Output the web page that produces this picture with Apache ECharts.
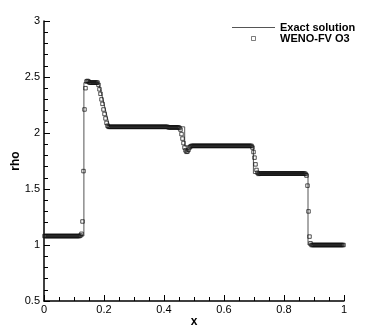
<!DOCTYPE html>
<html>
<head>
<meta charset="utf-8">
<script src="https://cdn.jsdelivr.net/npm/echarts@6/dist/echarts.min.js"></script>
<style>
  html, body { margin: 0; padding: 0; background: #fff; }
  #chart { width: 374px; height: 332px; }
</style>
</head>
<body>
<div id="chart"></div>
<script>
// exact solution (piecewise)
var exactX   = [0, 0.133, 0.133, 0.182, 0.19, 0.20, 0.21, 0.219, 0.469, 0.469, 0.698, 0.698, 0.880, 0.880, 1];
var exactRho = [1.08, 1.08, 2.45, 2.45, 2.37, 2.26, 2.15, 2.055, 2.055, 1.885, 1.885, 1.638, 1.638, 1.0, 1.0];

// WENO-FV O3, 300 cells
var nCells = 300;
var wenoRho = [
  1.08, 1.08, 1.08, 1.08, 1.08, 1.08, 1.08, 1.08, 1.08, 1.08,
  1.08, 1.08, 1.08, 1.08, 1.08, 1.08, 1.08, 1.08, 1.08, 1.08,
  1.08, 1.08, 1.08, 1.08, 1.08, 1.08, 1.08, 1.08, 1.08, 1.08,
  1.08, 1.08, 1.08, 1.08, 1.08, 1.08, 1.085, 1.10, 1.21, 1.66,
  2.21, 2.40, 2.46, 2.465, 2.46, 2.45, 2.45, 2.45, 2.45, 2.45,
  2.45, 2.45, 2.45, 2.45, 2.43, 2.39, 2.35, 2.30, 2.26, 2.21,
  2.17, 2.13, 2.09, 2.065, 2.055, 2.055, 2.055, 2.055, 2.055, 2.055,
  2.055, 2.055, 2.055, 2.055, 2.055, 2.055, 2.055, 2.055, 2.055, 2.055,
  2.055, 2.055, 2.055, 2.055, 2.055, 2.055, 2.055, 2.055, 2.055, 2.055,
  2.055, 2.055, 2.055, 2.055, 2.055, 2.055, 2.055, 2.055, 2.055, 2.055,
  2.055, 2.055, 2.055, 2.055, 2.055, 2.055, 2.055, 2.055, 2.055, 2.055,
  2.055, 2.055, 2.055, 2.055, 2.055, 2.055, 2.055, 2.055, 2.055, 2.055,
  2.055, 2.055, 2.055, 2.055, 2.05, 2.05, 2.05, 2.05, 2.05, 2.05,
  2.05, 2.05, 2.05, 2.05, 2.05, 2.045, 2.03, 1.99, 1.95, 1.91,
  1.87, 1.845, 1.832, 1.835, 1.85, 1.87, 1.88, 1.885, 1.885, 1.885,
  1.885, 1.885, 1.885, 1.885, 1.885, 1.885, 1.885, 1.885, 1.885, 1.885,
  1.885, 1.885, 1.885, 1.885, 1.885, 1.885, 1.885, 1.885, 1.885, 1.885,
  1.885, 1.885, 1.885, 1.885, 1.885, 1.885, 1.885, 1.885, 1.885, 1.885,
  1.885, 1.885, 1.885, 1.885, 1.885, 1.885, 1.885, 1.885, 1.885, 1.885,
  1.885, 1.885, 1.885, 1.885, 1.885, 1.885, 1.885, 1.885, 1.885, 1.885,
  1.885, 1.885, 1.885, 1.885, 1.885, 1.885, 1.885, 1.885, 1.87, 1.83,
  1.78, 1.72, 1.67, 1.645, 1.635, 1.638, 1.638, 1.638, 1.638, 1.638,
  1.638, 1.638, 1.638, 1.638, 1.638, 1.638, 1.638, 1.638, 1.638, 1.638,
  1.638, 1.638, 1.638, 1.638, 1.638, 1.638, 1.638, 1.638, 1.638, 1.638,
  1.638, 1.638, 1.638, 1.638, 1.638, 1.638, 1.638, 1.638, 1.638, 1.638,
  1.638, 1.638, 1.638, 1.638, 1.638, 1.638, 1.638, 1.638, 1.638, 1.638,
  1.638, 1.635, 1.62, 1.53, 1.30, 1.075, 1.015, 1.0, 1.0, 1.0,
  1.0, 1.0, 1.0, 1.0, 1.0, 1.0, 1.0, 1.0, 1.0, 1.0,
  1.0, 1.0, 1.0, 1.0, 1.0, 1.0, 1.0, 1.0, 1.0, 1.0,
  1.0, 1.0, 1.0, 1.0, 1.0, 1.0, 1.0, 1.0, 1.0, 1.0
];

var exactData = exactX.map(function (x, i) { return [x, exactRho[i]]; });
// cell centres
var wenoData = wenoRho.map(function (r, i) { return [(i + 0.5) / nCells, r]; });

var font = '"Liberation Sans", Arial, sans-serif';
var chart = echarts.init(document.getElementById('chart'));

var option = {
    animation: false,
    backgroundColor: '#fff',
    grid: { left: 44, right: 30, top: 21, bottom: 31, outerBoundsMode: 'none', containLabel: false },
    legend: {
        orient: 'vertical',
        left: 227,
        top: 17,
        itemWidth: 43,
        itemHeight: 4,
        itemGap: 0,
        textStyle: { fontFamily: font, fontSize: 11, fontWeight: 'bold', color: '#000' },
        data: [
            { name: 'Exact solution', icon: 'path://M0,0H46V1H0Z',
              itemStyle: { color: '#555', borderWidth: 0 } },
            { name: 'WENO-FV O3', icon: 'path://M0,0H10V10H0Z',
              itemStyle: { color: 'rgba(255,255,255,0)', borderColor: '#333', borderWidth: 0.8 } }
        ]
    },
    xAxis: {
        type: 'value',
        min: 0, max: 1, interval: 0.2,
        name: 'x',
        nameLocation: 'middle',
        nameGap: 15,
        nameMoveOverlap: false,
        nameTextStyle: { fontFamily: font, fontSize: 12, fontWeight: 'bold', color: '#000' },
        axisLine: { lineStyle: { color: '#000', width: 1.5 } },
        axisTick: { inside: true, length: 6, lineStyle: { color: '#000' } },
        minorTick: { show: true, splitNumber: 4, length: 4, lineStyle: { color: '#000' } },
        splitLine: { show: false },
        axisLabel: { fontFamily: font, fontSize: 11, color: '#000', margin: 3,
            formatter: function (v) { return String(+v.toFixed(1)); } }
    },
    yAxis: {
        type: 'value',
        min: 0.5, max: 3, interval: 0.5,
        name: 'rho',
        nameLocation: 'middle',
        nameGap: 22,
        nameMoveOverlap: false,
        nameTextStyle: { fontFamily: font, fontSize: 12, fontWeight: 'bold', color: '#000' },
        axisLine: { show: true, lineStyle: { color: '#000', width: 1.5 } },
        axisTick: { show: true, inside: true, length: 6, lineStyle: { color: '#000' } },
        minorTick: { show: true, splitNumber: 5, length: 4, lineStyle: { color: '#000' } },
        splitLine: { show: false },
        axisLabel: { fontFamily: font, fontSize: 11, color: '#000', margin: 4 }
    },
    series: [
        {
            name: 'Exact solution',
            type: 'line',
            data: exactData,
            symbol: 'none',
            lineStyle: { color: '#555', width: 1 },
            itemStyle: { color: '#555' },
            z: 2
        },
        {
            name: 'WENO-FV O3',
            type: 'scatter',
            data: wenoData,
            symbol: 'rect',
            symbolSize: 3.5,
            itemStyle: { color: 'rgba(255,255,255,0)', borderColor: '#111', borderWidth: 0.9 },
            z: 3
        }
    ]
};
chart.setOption(option);
</script>
</body>
</html>
